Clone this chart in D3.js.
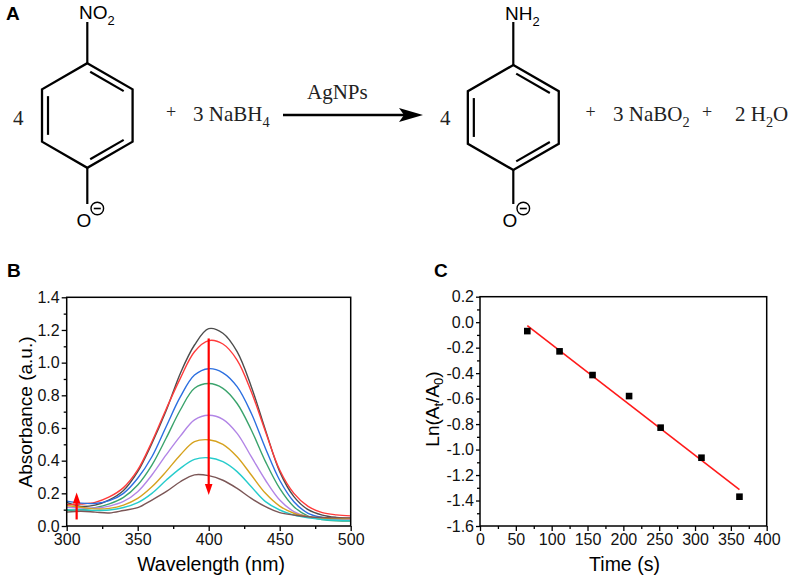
<!DOCTYPE html>
<html>
<head>
<meta charset="utf-8">
<script src="https://cdn.jsdelivr.net/npm/d3@7"></script>
<style>
body { margin: 0; background: #fff; }
svg { display: block; }
text { font-family: "Liberation Sans", Arial, sans-serif; }
.serif { font-family: "Liberation Serif", "Times New Roman", serif; fill: #222; }
</style>
</head>
<body>
<svg id="fig" width="796" height="580"></svg>
<script>
// ---- panel B: UV-vis spectra ----
var wavelength = [300,310,320,330,340,350,360,370,380,390,400,410,420,430,440,450,460,470,480,490,500];
var absT0 = [.145,.12,.128,.16,.218,.333,.506,.705,.934,1.108,1.208,1.18,1.067,.853,.587,.333,.18,.10,.067,.053,.047];
var absT1 = [.13,.135,.145,.178,.235,.343,.516,.715,.904,1.067,1.135,1.114,1.016,.822,.577,.343,.20,.12,.082,.068,.062];
var absT2 = [.152,.14,.138,.155,.2,.292,.424,.608,.79,.924,.963,.938,.853,.69,.475,.28,.149,.078,.053,.045,.043];
var absT3 = [.095,.1,.112,.135,.175,.251,.373,.537,.71,.843,.872,.843,.75,.588,.394,.23,.118,.061,.04,.032,.03];
var absT4 = [.115,.11,.11,.122,.15,.21,.312,.435,.55,.65,.678,.653,.567,.424,.28,.159,.088,.057,.045,.04,.038];
var absT5 = [.125,.115,.105,.108,.128,.169,.24,.333,.435,.516,.528,.50,.424,.312,.2,.122,.078,.057,.048,.045,.045];
var absT6 = [.10,.098,.095,.098,.113,.143,.2,.28,.353,.408,.418,.394,.333,.24,.149,.098,.067,.05,.04,.035,.033];
var absT7 = [.085,.09,.085,.08,.095,.112,.159,.21,.271,.313,.308,.28,.23,.169,.118,.082,.067,.057,.052,.05,.05];
var spectra = [absT0, absT1, absT2, absT3, absT4, absT5, absT6, absT7];
var spectraColors = ["#4d4d4d","#ff3b3b","#2c6fe0","#3aa36c","#b285e6","#d6a21e","#26cccc","#7b5656"];
// arrows: [wavelength, from, to]
var arrowDown = [400, 1.148, 0.19];
var arrowUp = [307, 0.04, 0.205];
var xTicksB = [300,350,400,450,500];
var yTicksB = [0,0.2,0.4,0.6,0.8,1.0,1.2,1.4];

// ---- panel C: kinetics ----
var timeS = [66, 111, 157, 208, 252, 309, 362];
var lnRatio = [-0.07, -0.229, -0.415, -0.58, -0.828, -1.064, -1.37];
var xTicksC = [0,50,100,150,200,250,300,350,400];
var yTicksC = [0.2,0,-0.2,-0.4,-0.6,-0.8,-1.0,-1.2,-1.4,-1.6];

// ---- panel A: scheme labels ----
var coefLeft = "4", coefRight = "4";
var reagent = [["3 NaBH",0],["4",1]];
var catalyst = "AgNPs";
var byprod1 = [["3 NaBO",0],["2",1]];
var byprod2 = [["2 H",0],["2",1],["O",0]];

var svg = d3.select("#fig");

// helper: text with subscripts
function subText(sel, x, y, parts, size, cls) {
  var t = sel.append("text").attr("x", x).attr("y", y).style("font-size", size + "px");
  if (cls) t.attr("class", cls);
  var shift = 0;
  parts.forEach(function(p){
    var s = t.append("tspan").text(p[0]);
    if (p[1]) { s.style("font-size", (size*0.68) + "px").attr("dy", size*0.3 - shift); shift = size*0.3; }
    else { s.attr("dy", -shift); shift = 0; }
  });
  return t;
}

// ================= A =================
var gA = svg.append("g");
gA.append("text").attr("x", 6).attr("y", 20).style("font-size", "19px").style("font-weight", "bold").text("A");

function ring(cx, cy, r) {
  var pts = d3.range(6).map(function(i){
    var a = (-90 + 60*i) * Math.PI/180;
    return [cx + r*Math.cos(a), cy + r*Math.sin(a)];
  });
  gA.append("polygon").attr("points", pts.join(" "))
    .attr("fill", "none").attr("stroke", "#000").attr("stroke-width", 2.3);
  [0,2,4].forEach(function(i){
    var p = pts[i], q = pts[(i+1)%6];
    var mx = (p[0]+q[0])/2, my = (p[1]+q[1])/2;
    var dx = cx-mx, dy = cy-my, len = Math.sqrt(dx*dx+dy*dy);
    var ox = dx/len*6, oy = dy/len*6, k = 0.13;
    gA.append("line")
      .attr("x1", p[0] + (q[0]-p[0])*k + ox).attr("y1", p[1] + (q[1]-p[1])*k + oy)
      .attr("x2", q[0] - (q[0]-p[0])*k + ox).attr("y2", q[1] - (q[1]-p[1])*k + oy)
      .attr("stroke", "#000").attr("stroke-width", 2.2);
  });
  gA.append("line").attr("x1", cx).attr("y1", cy - r).attr("x2", cx).attr("y2", 22)
    .attr("stroke", "#000").attr("stroke-width", 2.2);
  gA.append("line").attr("x1", cx).attr("y1", cy + r).attr("x2", cx).attr("y2", 204)
    .attr("stroke", "#000").attr("stroke-width", 2.2);
  // phenolate O with circled minus
  gA.append("text").attr("x", cx - 3.5).attr("y", 227).attr("text-anchor", "middle")
    .style("font-size", "19px").text("O");
  gA.append("circle").attr("cx", cx + 10).attr("cy", 208.5).attr("r", 6.3)
    .attr("fill", "none").attr("stroke", "#000").attr("stroke-width", 1.4);
  gA.append("line").attr("x1", cx + 6.5).attr("x2", cx + 13.5).attr("y1", 208.5).attr("y2", 208.5)
    .attr("stroke", "#000").attr("stroke-width", 1.6);
}

ring(87.3, 115.5, 52.3);
subText(gA, 79, 19, [["NO",0],["2",1]], 19);
ring(513.3, 117.5, 52.5);
subText(gA, 505, 20, [["NH",0],["2",1]], 19);

gA.append("text").attr("class", "serif").attr("x", 13).attr("y", 125).style("font-size", "21px").text(coefLeft);
gA.append("text").attr("class", "serif").attr("x", 171).attr("y", 118).attr("text-anchor", "middle").style("font-size", "18px").text("+");
subText(gA, 193, 121, reagent, 21, "serif");
gA.append("text").attr("class", "serif").attr("x", 307).attr("y", 99).style("font-size", "21px").text(catalyst);
gA.append("line").attr("x1", 283).attr("x2", 408).attr("y1", 115).attr("y2", 115)
  .attr("stroke", "#000").attr("stroke-width", 2.5);
gA.append("path").attr("d", "M423,115 L399,108 L404,115 L399,122 Z").attr("fill", "#000");
gA.append("text").attr("class", "serif").attr("x", 440).attr("y", 125).style("font-size", "21px").text(coefRight);
gA.append("text").attr("class", "serif").attr("x", 590.5).attr("y", 118).attr("text-anchor", "middle").style("font-size", "18px").text("+");
subText(gA, 613, 121, byprod1, 21, "serif");
gA.append("text").attr("class", "serif").attr("x", 707).attr("y", 118).attr("text-anchor", "middle").style("font-size", "18px").text("+");
subText(gA, 735, 121, byprod2, 21, "serif");

// ================= common axis helper =================
function frameAxes(g, x, y, xt, yt, xminor, yminor, fmtY, tsY, padY) {
  var w = x.range()[1], h = y.range()[0];
  g.append("g").attr("transform", "translate(0," + h + ")")
    .call(d3.axisBottom(x).tickValues(xt).tickSize(5).tickPadding(3).tickFormat(d3.format("d")));
  g.append("g").attr("transform", "translate(0," + h + ")")
    .call(d3.axisBottom(x).tickValues(xminor).tickSize(3).tickFormat(""));
  g.append("g")
    .call(d3.axisLeft(y).tickValues(yt).tickSize(tsY).tickPadding(padY).tickFormat(fmtY));
  g.append("g").call(d3.axisLeft(y).tickValues(yminor).tickSize(3).tickFormat(""));
  g.selectAll(".domain").remove();
  g.selectAll(".tick line").attr("stroke", "#000").attr("stroke-width", 1.3);
  g.selectAll(".tick text").style("font-size", "16px").attr("fill", "#111");
  g.append("rect").attr("x", 0).attr("y", 0).attr("width", w).attr("height", h)
    .attr("fill", "none").attr("stroke", "#000").attr("stroke-width", 1.5);
}
var fmt1 = function(d){ return d.toFixed(1); };

// ================= B =================
var bL = 66.7, bT = 297.3, bW = 284, bH = 228.7;
var gB = svg.append("g").attr("transform", "translate(" + bL + "," + bT + ")");
var xB = d3.scaleLinear().domain([300, 500]).range([0, bW]);
var yB = d3.scaleLinear().domain([0, 1.4]).range([bH, 0]);

var lineB = d3.line().x(function(d){ return xB(d[0]); }).y(function(d){ return yB(d[1]); })
  .curve(d3.curveCatmullRom.alpha(0.5));
gB.selectAll("path.spec").data(spectra).enter().append("path")
  .attr("class", "spec")
  .attr("d", function(s){ return lineB(s.map(function(v, i){ return [wavelength[i], v]; })); })
  .attr("fill", "none").attr("stroke-width", 1.4)
  .attr("stroke", function(d, i){ return spectraColors[i]; });

function redArrow(g, x, y1, y2) {
  var dir = y2 > y1 ? 1 : -1;
  g.append("line").attr("x1", x).attr("x2", x).attr("y1", y1).attr("y2", y2 - dir*9)
    .attr("stroke", "#ff0000").attr("stroke-width", 2.2);
  g.append("path").attr("d", "M" + x + "," + y2 + " L" + (x-3.8) + "," + (y2 - dir*11) + " L" + (x+3.8) + "," + (y2 - dir*11) + " Z")
    .attr("fill", "#ff0000");
}
redArrow(gB, xB(arrowDown[0]), yB(arrowDown[1]), yB(arrowDown[2]));
redArrow(gB, xB(arrowUp[0]), yB(arrowUp[1]), yB(arrowUp[2]));

frameAxes(gB, xB, yB, xTicksB, yTicksB,
  [325,375,425,475], [0.1,0.3,0.5,0.7,0.9,1.1,1.3], fmt1, 5, 2);

svg.append("text").attr("x", 211).attr("y", 570.5).attr("text-anchor", "middle")
  .style("font-size", "19.5px").text("Wavelength (nm)");
svg.append("text").attr("transform", "translate(32,412) rotate(-90)").attr("text-anchor", "middle")
  .style("font-size", "19px").text("Absorbance (a.u.)");
svg.append("text").attr("x", 7).attr("y", 277).style("font-size", "19px").style("font-weight", "bold").text("B");

// ================= C =================
var cL = 480, cT = 296.7, cW = 286.7, cH = 229.3;
var gC = svg.append("g").attr("transform", "translate(" + cL + "," + cT + ")");
var xC = d3.scaleLinear().domain([0, 400]).range([0, cW]);
var yC = d3.scaleLinear().domain([-1.6, 0.2]).range([cH, 0]);

// least-squares fit of ln(At/A0) vs t
var mt = d3.mean(timeS), mv = d3.mean(lnRatio);
var sxy = d3.sum(timeS, function(t, i){ return (t - mt) * (lnRatio[i] - mv); });
var sxx = d3.sum(timeS, function(t){ return (t - mt) * (t - mt); });
var slope = sxy / sxx, icpt = mv - slope * mt;
var fitT = d3.extent(timeS);
gC.append("line")
  .attr("x1", xC(fitT[0])).attr("y1", yC(icpt + slope*fitT[0]))
  .attr("x2", xC(fitT[1])).attr("y2", yC(icpt + slope*fitT[1]))
  .attr("stroke", "#ff1a1a").attr("stroke-width", 1.6);

gC.selectAll("rect.pt").data(timeS).enter().append("rect")
  .attr("class", "pt")
  .attr("x", function(d){ return xC(d) - 3.3; })
  .attr("y", function(d, i){ return yC(lnRatio[i]) - 3.3; })
  .attr("width", 6.6).attr("height", 6.6).attr("fill", "#000");

frameAxes(gC, xC, yC, xTicksC, yTicksC,
  [25,75,125,175,225,275,325,375], [0.1,-0.1,-0.3,-0.5,-0.7,-0.9,-1.1,-1.3,-1.5], fmt1, 4, 2);

svg.append("text").attr("x", 624.5).attr("y", 570.5).attr("text-anchor", "middle")
  .style("font-size", "19.5px").text("Time (s)");
var yl = svg.append("text").attr("transform", "translate(439,409) rotate(-90)").attr("text-anchor", "middle")
  .style("font-size", "19px");
yl.append("tspan").text("Ln(A");
yl.append("tspan").text("t").style("font-size", "13px").attr("dy", 4);
yl.append("tspan").text("/A").attr("dy", -4);
yl.append("tspan").text("0").style("font-size", "13px").attr("dy", 4);
yl.append("tspan").text(")").attr("dy", -4);
svg.append("text").attr("x", 434).attr("y", 277).style("font-size", "19px").style("font-weight", "bold").text("C");
</script>
</body>
</html>
